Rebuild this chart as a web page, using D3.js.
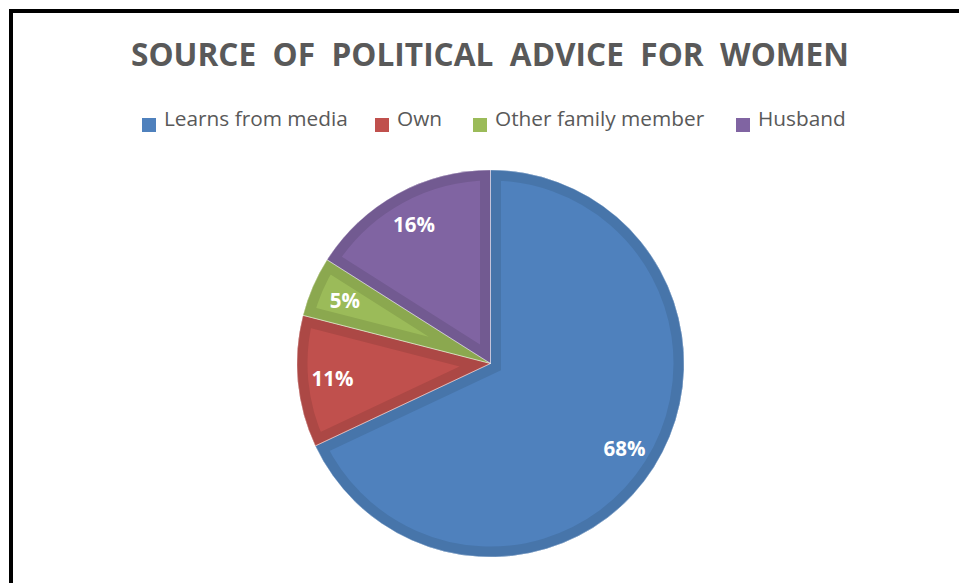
<!DOCTYPE html>
<html>
<head>
<meta charset="utf-8">
<script src="https://cdn.jsdelivr.net/npm/d3@7"></script>
<style>
  html, body { margin: 0; padding: 0; background: #fff; }
  svg { display: block; }
</style>
</head>
<body>
<svg id="chart" width="959" height="583"></svg>
<script>
// Sources of political advice, share of women (%)
const categories = ["Learns from media", "Own", "Other family member", "Husband"];
const values = [68, 11, 5, 16];
const fills = ["#4F81BD", "#C0504D", "#9BBB59", "#8064A2"];
const edges = ["#4775AA", "#AC4845", "#8BA84F", "#725A91"];
const titleText = "SOURCE  OF  POLITICAL  ADVICE  FOR  WOMEN";

const W = 959, H = 583;
const svg = d3.select("#chart");

// outer frame
svg.append("rect")
  .attr("x", 11).attr("y", 11)
  .attr("width", W + 20).attr("height", H + 20)
  .attr("fill", "#fff").attr("stroke", "#000").attr("stroke-width", 4);

// title
const title = svg.append("text")
  .attr("x", 490).attr("y", 66)
  .attr("text-anchor", "middle")
  .attr("font-family", "'Open Sans', sans-serif")
  .attr("font-weight", 700)
  .attr("font-size", 32)
  .attr("fill", "#595959")
  .style("white-space", "pre")
  .text(titleText);
title.attr("textLength", 718).attr("lengthAdjust", "spacingAndGlyphs");

// legend
const legendX = [142, 375, 473, 736];
const legend = svg.append("g");
categories.forEach((c, i) => {
  const g = legend.append("g").attr("transform", `translate(${legendX[i]},0)`);
  g.append("rect").attr("x", 0).attr("y", 118).attr("width", 14).attr("height", 14)
    .attr("fill", fills[i]);
  g.append("text").attr("x", 22).attr("y", 126)
    .attr("font-family", "'Open Sans', sans-serif")
    .attr("font-size", 20.8)
    .attr("fill", "#595959")
    .text(c);
});

// pie
const cx = 490.5, cy = 363.5, r = 193.5;
const pie = d3.pie().sort(null).value(d => d)(values);
const arc = d3.arc().innerRadius(0).outerRadius(r);
const labelArc = d3.arc().innerRadius(r * 0.82).outerRadius(r * 0.82);

const defs = svg.append("defs");
const pg = svg.append("g").attr("transform", `translate(${cx},${cy})`);

pie.forEach((d, i) => {
  const path = arc(d);
  defs.append("clipPath").attr("id", "clip" + i)
    .append("path").attr("d", path);
  pg.append("path").attr("d", path).attr("fill", fills[i]);
  // inner bevel band along each slice's edges
  pg.append("path").attr("d", path)
    .attr("fill", "none")
    .attr("stroke", edges[i])
    .attr("stroke-width", 21)
    .attr("stroke-linejoin", "miter")
    .attr("clip-path", `url(#clip${i})`);
});
// thin light separators
pie.forEach((d, i) => {
  pg.append("path").attr("d", arc(d))
    .attr("fill", "none")
    .attr("stroke", "rgba(255,255,255,0.35)")
    .attr("stroke-width", 1);
});

// value labels
pie.forEach((d, i) => {
  const [x, y] = labelArc.centroid(d);
  pg.append("text")
    .attr("x", x).attr("y", y)
    .attr("dy", "0.35em")
    .attr("text-anchor", "middle")
    .attr("font-family", "'Open Sans', sans-serif")
    .attr("font-weight", 700)
    .attr("font-size", 20.5)
    .attr("fill", "#fff")
    .text(values[i] + "%");
});
</script>
</body>
</html>
